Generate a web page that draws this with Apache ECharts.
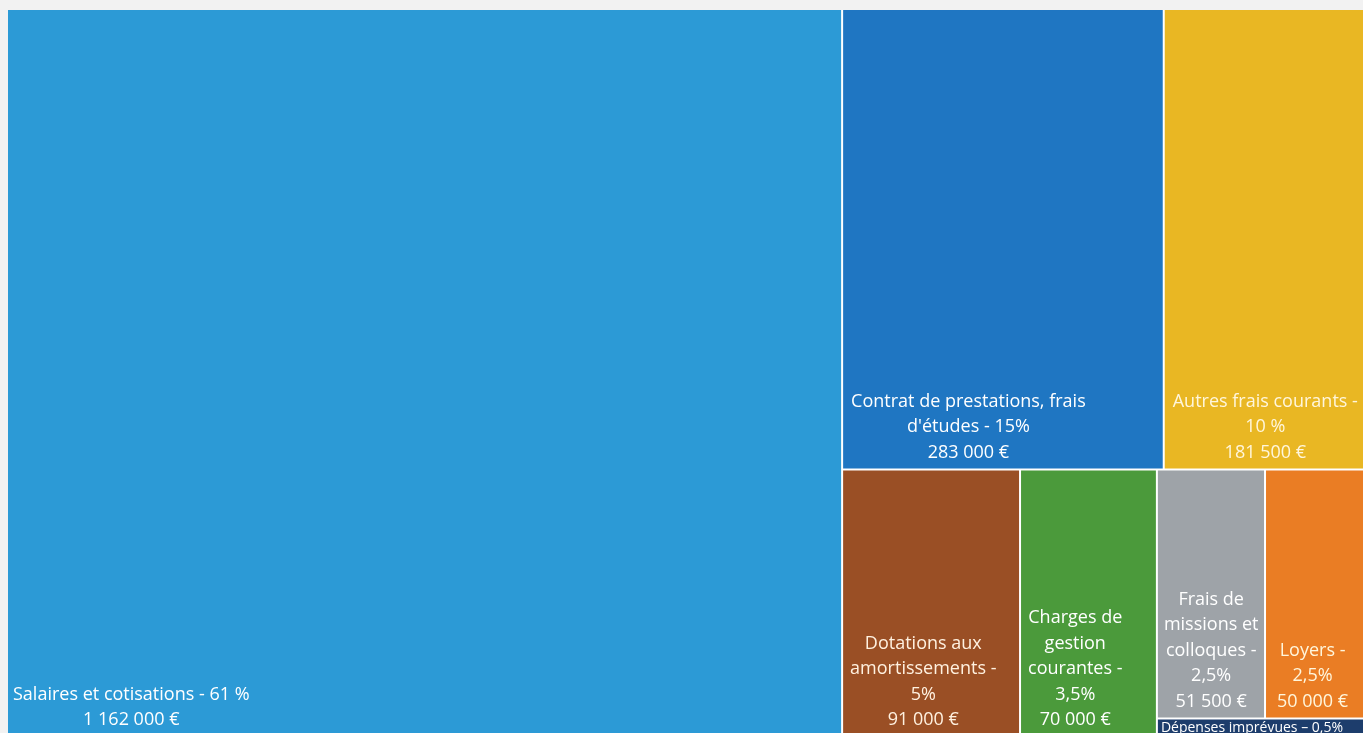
<!DOCTYPE html>
<html><head><meta charset="utf-8">
<script src="https://cdn.jsdelivr.net/npm/echarts@6/dist/echarts.min.js"></script>
<style>html,body{margin:0;padding:0;background:#f2f2f2;overflow:hidden;} #c{width:1363px;height:733px;}</style>
</head><body><div id="c"></div>
<script>
// ---- data ----
const categories = [
  'Salaires et cotisations',
  "Contrat de prestations, frais d'études",
  'Autres frais courants',
  'Dotations aux amortissements',
  'Charges de gestion courantes',
  'Frais de missions et colloques',
  'Loyers',
  'Dépenses imprévues'
];
const amounts = [1162000, 283000, 181500, 91000, 70000, 51500, 50000, 7500];
const percents = ['61 %', '15%', '10 %', '5%', '3,5%', '2,5%', '2,5%', '0,5%'];
const labelLines = [
  ['Salaires et cotisations - 61 %', '1 162 000 €'],
  ['Contrat de prestations, frais', "d'études - 15%", '283 000 €'],
  ['Autres frais courants -', '10 %', '181 500 €'],
  ['Dotations aux', 'amortissements -', '5%', '91 000 €'],
  ['Charges de', 'gestion', 'courantes -', '3,5%', '70 000 €'],
  ['Frais de', 'missions et', 'colloques -', '2,5%', '51 500 €'],
  ['Loyers -', '2,5%', '50 000 €'],
  ['Dépenses imprévues – 0,5%']
];

// ---- styles ----
const colors = ['#2c9ad6', '#1f76c2', '#e9b723', '#9a4f25', '#4b9a3b', '#9ea3a8', '#ea7d24', '#1d3d6c'];
const textColors = ['#ffffff', '#ffffff', '#fff6dc', '#fff1e0', '#ffffff', '#ffffff', '#fff6dc', '#ffffff'];
const padLeft = [5, 8, 8, 7, 7, 6, 11, 3];
const FONT = 'Open Sans';
const FS = 18;
const LH = 25.5;

const cv = document.createElement('canvas').getContext('2d');
function textW(s, size) { cv.font = size + 'px "' + FONT + '"'; return cv.measureText(s).width; }

function leaf(i) {
  const lines = labelLines[i];
  let label;
  if (i === 7) {
    label = { position: [padLeft[i], 0], align: 'left', verticalAlign: 'top', fontSize: 14, lineHeight: 16, padding: 0 };
  } else {
    const maxW = Math.max.apply(null, lines.map(s => textW(s, FS)));
    label = { position: [padLeft[i] + maxW / 2, '100%'], align: 'center', verticalAlign: 'bottom', padding: [0, 0, 3, 0] };
  }
  label.color = textColors[i];
  return {
    name: categories[i],
    value: amounts[i],
    labelText: lines.join('\n'),
    itemStyle: { color: colors[i] },
    label: label
  };
}
function group(children) {
  return { name: '', value: children.reduce((s, c) => s + c.value, 0), children: children };
}

const data = [
  leaf(0),
  group([
    group([leaf(1), leaf(2)]),
    group([leaf(3), leaf(4), group([group([leaf(5), leaf(6)]), leaf(7)])])
  ])
];

const chart = echarts.init(document.getElementById('c'), null, { renderer: 'canvas' });
chart.setOption({
  backgroundColor: '#f2f2f2',
  animation: false,
  series: [{
    type: 'treemap',
    left: 8, top: 10, width: 1361, height: 726,
    roam: false,
    nodeClick: false,
    sort: false,
    squareRatio: 1.25,
    visibleMin: 0,
    breadcrumb: { show: false },
    itemStyle: { borderWidth: 0, gapWidth: 2, borderColor: '#ffffff' },
    upperLabel: { show: false },
    label: {
      show: true,
      fontFamily: FONT,
      fontSize: FS,
      lineHeight: LH,
      overflow: 'none',
      formatter: p => p.data.labelText || ''
    },
    emphasis: { disabled: true },
    data: data
  }]
});
</script>
</body></html>
